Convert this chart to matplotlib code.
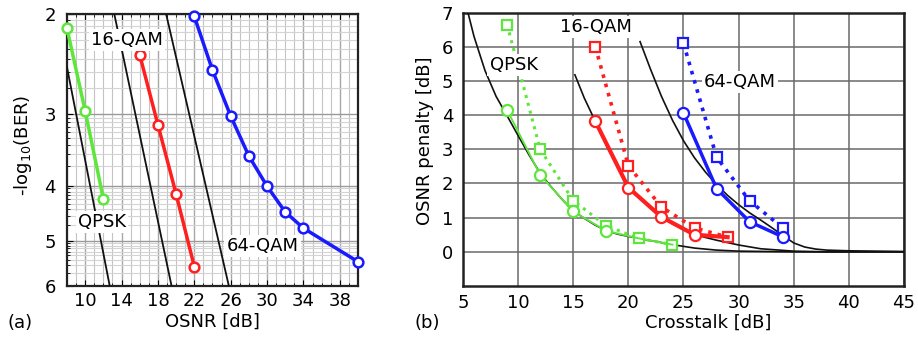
import numpy as np
import matplotlib
matplotlib.use("Agg")
import matplotlib.pyplot as plt
from matplotlib.ticker import FixedLocator, NullFormatter, MultipleLocator

plt.rcParams['font.family'] = ['DejaVu Sans']
plt.rcParams['font.size'] = 13

# ---------------- data: panel (a) ----------------
qpsk_osnr = [8, 10, 12]
qpsk_ber = [2.12, 2.96, 4.22]
qam16_osnr = [16, 18, 20, 22]
qam16_ber = [2.36, 3.13, 4.14, 5.55]
qam64_osnr = [22, 24, 26, 28, 30, 32, 34, 40]
qam64_ber = [2.02, 2.51, 3.02, 3.55, 4.01, 4.45, 4.75, 5.44]

th_qpsk_osnr = [8.0, 12.7]
th_qpsk_ber = [2.48, 6.0]
th_16_osnr = [13.2, 19.5]
th_16_ber = [2.0, 6.0]
th_64_osnr = [18.9, 25.8]
th_64_ber = [2.0, 6.0]

a_xticks = [10, 14, 18, 22, 26, 30, 34, 38]
a_yticks = [2, 3, 4, 5, 6]

# ---------------- data: panel (b) ----------------
b_qpsk_xt = [9, 12, 15, 18, 21, 24]
b_qpsk_circ = [4.15, 2.25, 1.18, 0.61, 0.39, 0.21]
b_qpsk_sq = [6.65, 3.0, 1.5, 0.76, 0.39, 0.21]
b_16_xt = [17, 20, 23, 26, 29]
b_16_circ = [3.82, 1.88, 1.02, 0.50, 0.43]
b_16_sq = [6.0, 2.52, 1.31, 0.70, 0.43]
b_64_xt = [25, 28, 31, 34]
b_64_circ = [4.06, 1.85, 0.88, 0.44]
b_64_sq = [6.1, 2.77, 1.49, 0.70]

th_b_qpsk_xt = [5.45, 6, 7, 8, 9, 10, 11, 12, 13, 14, 15, 16, 17, 18, 19, 20, 21, 22, 24, 26, 28, 30, 35, 45]
th_b_qpsk_pen = [7.0, 6.3, 5.3, 4.55, 3.98, 3.4, 2.83, 2.3, 1.9, 1.53, 1.2, 0.98, 0.78, 0.62, 0.52, 0.45, 0.39, 0.33, 0.21, 0.11, 0.05, 0.02, 0.0, 0.0]
th_b_16_xt = [15.15, 16, 17, 18, 19, 20, 21, 22, 23, 24, 25, 26, 27, 28, 30, 32, 35, 38, 45]
th_b_16_pen = [5.18, 4.5, 3.82, 3.12, 2.5, 1.93, 1.58, 1.28, 1.03, 0.82, 0.65, 0.51, 0.42, 0.34, 0.2, 0.09, 0.02, 0.0, 0.0]
th_b_64_xt = [21.06, 22, 23, 24, 25, 26, 27, 28, 29, 30, 31, 32, 33, 34, 35, 36, 37, 38, 40, 45]
th_b_64_pen = [6.15, 5.35, 4.55, 3.85, 3.25, 2.75, 2.33, 1.97, 1.65, 1.38, 1.14, 0.93, 0.71, 0.48, 0.26, 0.14, 0.08, 0.05, 0.03, 0.01]

b_xticks = [5, 10, 15, 20, 25, 30, 35, 40, 45]
b_yticks = [0, 1, 2, 3, 4, 5, 6, 7]

GREEN = '#5fe63c'
RED = '#ff1f1f'
BLUE = '#1a1aff'

W, H = 918, 340
fig = plt.figure(figsize=(W / 100, H / 100), dpi=100)

# ================= panel (a) =================
ax1 = fig.add_axes([67 / W, 1 - 286 / H, 291 / W, 272 / H])
ax1.set_yscale('log')
ax1.set_xlim(8, 40)
ax1.set_ylim(6, 2)
ax1.yaxis.set_major_locator(FixedLocator(a_yticks))
ax1.set_yticklabels([str(v) for v in a_yticks])
minor_y = [m - np.log10(k) for m in range(3, 7) for k in range(2, 10)]
ax1.yaxis.set_minor_locator(FixedLocator(minor_y))
ax1.yaxis.set_minor_formatter(NullFormatter())
ax1.xaxis.set_major_locator(FixedLocator(a_xticks))
ax1.xaxis.set_minor_locator(MultipleLocator(1))
ax1.grid(which='major', axis='y', color='#9a9a9a', lw=1.0)
ax1.grid(which='minor', axis='y', color='#d4d4d4', lw=0.8)
ax1.grid(which='major', axis='x', color='#a8a8a8', lw=1.0)
ax1.grid(which='minor', axis='x', color='#c4c4c4', lw=0.8)
ax1.set_axisbelow(True)
ax1.tick_params(which='major', direction='in', top=True, length=4, width=0.8, pad=4)
ax1.tick_params(which='minor', direction='in', top=True, length=2.5, width=0.6)
ax1.tick_params(axis='y', which='both', pad=8)
for s in ax1.spines.values():
    s.set_linewidth(1.6)
    s.set_color('#222222')

ax1.plot(th_qpsk_osnr, th_qpsk_ber, color='#111111', lw=1.3, zorder=3)
ax1.plot(th_16_osnr, th_16_ber, color='#111111', lw=1.3, zorder=3)
ax1.plot(th_64_osnr, th_64_ber, color='#111111', lw=1.3, zorder=3)
mk = dict(marker='o', ms=7, mfc='white', mew=1.8, lw=2.5, zorder=5, clip_on=False)
ax1.plot(qpsk_osnr, qpsk_ber, color=GREEN, mec=GREEN, **mk)
ax1.plot(qam16_osnr, qam16_ber, color=RED, mec=RED, **mk)
ax1.plot(qam64_osnr, qam64_ber, color=BLUE, mec=BLUE, **mk)

bb = dict(boxstyle='square,pad=0.12', fc='white', ec='none')
ax1.text(14.6, 2.22, '16-QAM', ha='center', va='center', fontsize=13, bbox=bb, zorder=6)
ax1.text(11.85, 4.63, 'QPSK', ha='center', va='center', fontsize=13, bbox=bb, zorder=6)
ax1.text(29.5, 5.11, '64-QAM', ha='center', va='center', fontsize=13, bbox=bb, zorder=6)

# ================= panel (b) =================
ax2 = fig.add_axes([463 / W, 1 - 286 / H, 441 / W, 273.4 / H])
ax2.set_xlim(5, 45)
ax2.set_ylim(-1, 7)
ax2.set_xticks(b_xticks)
ax2.set_yticks(b_yticks)
ax2.grid(True, color='#6a6a6a', lw=1.1)
ax2.set_axisbelow(True)
ax2.tick_params(length=0, pad=6)
ax2.tick_params(axis='y', pad=7)
for s in ax2.spines.values():
    s.set_linewidth(1.8)
    s.set_color('#222222')

for xs, ys in [(th_b_qpsk_xt, th_b_qpsk_pen), (th_b_16_xt, th_b_16_pen), (th_b_64_xt, th_b_64_pen)]:
    ax2.plot(xs, ys, color='#111111', lw=1.2, zorder=3)

ck = dict(marker='o', ms=8, mfc='white', mew=1.6, zorder=5)
sk = dict(marker='s', ms=7, mfc='white', mew=1.6, zorder=5)
ax2.plot(b_qpsk_xt, b_qpsk_sq, color=GREEN, mec=GREEN, ls=':', lw=2.2, **sk)
ax2.plot(b_qpsk_xt, b_qpsk_circ, color=GREEN, mec=GREEN, ls='-', lw=1.4, markevery=[0, 1, 2, 3], **ck)
ax2.plot(b_16_xt, b_16_sq, color=RED, mec=RED, ls=':', lw=2.6, **sk)
ax2.plot(b_16_xt, b_16_circ, color=RED, mec=RED, ls='-', lw=3.0, markevery=[0, 1, 2, 3], **ck)
ax2.plot(b_64_xt, b_64_sq, color=BLUE, mec=BLUE, ls=':', lw=2.6, **sk)
ax2.plot(b_64_xt, b_64_circ, color=BLUE, mec=BLUE, ls='-', lw=2.5, **ck)

ax2.text(9.6, 5.47, 'QPSK', ha='center', va='center', fontsize=13, bbox=bb, zorder=6)
ax2.text(17.1, 6.58, '16-QAM', ha='center', va='center', fontsize=13, bbox=bb, zorder=6)
ax2.text(30.1, 4.97, '64-QAM', ha='center', va='center', fontsize=13, bbox=bb, zorder=6)

# ================= labels =================
fig.text(212 / W, 1 - 322 / H, 'OSNR [dB]', ha='center', va='center', fontsize=13)
fig.text(708 / W, 1 - 323 / H, 'Crosstalk [dB]', ha='center', va='center', fontsize=13)
fig.text(23 / W, 1 - 145 / H, '-log$_{10}$(BER)', ha='center', va='center', rotation=90, fontsize=13)
fig.text(425 / W, 1 - 141 / H, 'OSNR penalty [dB]', ha='center', va='center', rotation=90, fontsize=13)
fig.text(20 / W, 1 - 323 / H, '(a)', ha='center', va='center', fontsize=13)
fig.text(427 / W, 1 - 323 / H, '(b)', ha='center', va='center', fontsize=13)

fig.savefig('out.png', dpi=100)
